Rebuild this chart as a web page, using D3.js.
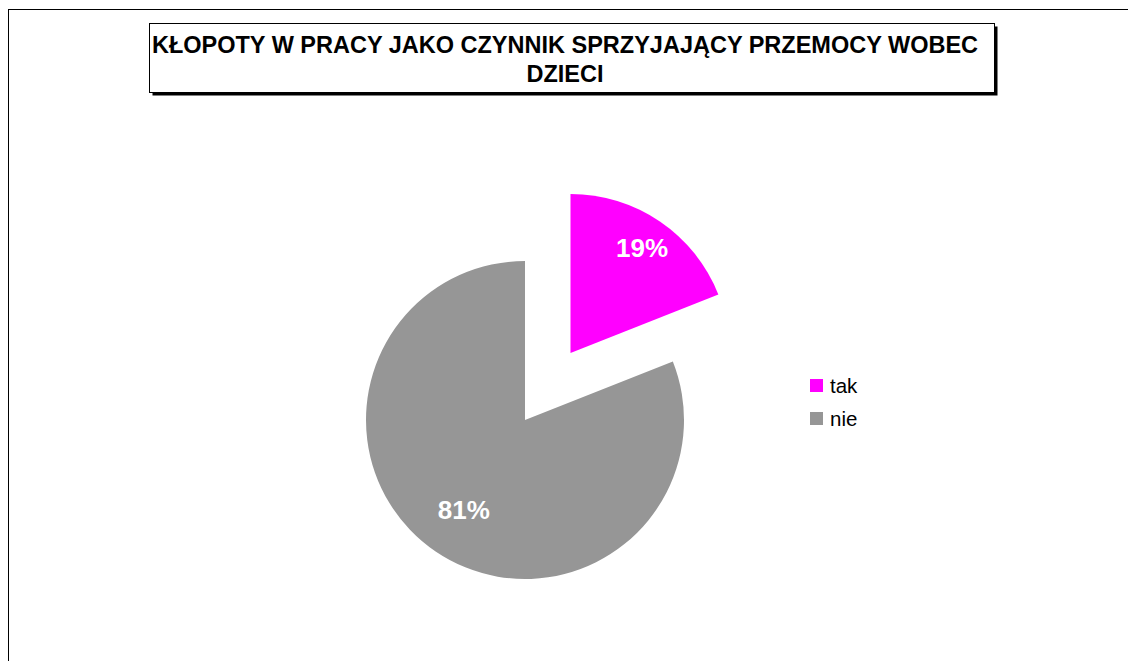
<!DOCTYPE html>
<html lang="pl">
<head>
<meta charset="UTF-8">
<title>Kłopoty w pracy</title>
<script src="https://d3js.org/d3.v7.min.js"></script>
<style>
    body {
        margin: 0;
        padding: 0;
        background: #fff;
        font-family: 'Liberation Sans', Arial, sans-serif;
    }
    svg { display: block; }
</style>
</head>
<body>
<svg id="chart"></svg>
<script>
    // data
    const categories = ["tak", "nie"];
    const values = [19, 81];
    const colors = ["#ff00ff", "#969696"];
    const titleLines = ["KŁOPOTY W PRACY JAKO CZYNNIK SPRZYJAJĄCY PRZEMOCY WOBEC", "DZIECI"];

    const W = 1128, H = 661;
    const svg = d3.select("#chart").attr("width", W).attr("height", H);

    // outer chart frame (runs off the right and bottom edges)
    svg.append("rect")
        .attr("x", 8.5).attr("y", 9.5)
        .attr("width", W + 10).attr("height", H + 10)
        .attr("fill", "none").attr("stroke", "#000").attr("stroke-width", 1);

    // title box with shadow
    const tb = { x: 149.5, y: 23.5, w: 845, h: 69 };
    svg.append("rect")
        .attr("x", tb.x + 3).attr("y", tb.y + 3)
        .attr("width", tb.w).attr("height", tb.h)
        .attr("fill", "#000");
    svg.append("rect")
        .attr("x", tb.x).attr("y", tb.y)
        .attr("width", tb.w).attr("height", tb.h)
        .attr("fill", "#fff").attr("stroke", "#000").attr("stroke-width", 1);

    svg.append("g").selectAll("text")
        .data(titleLines)
        .join("text")
        .attr("x", tb.x + tb.w / 2 - 7)
        .attr("y", (d, i) => 52.5 + i * 29)
        .attr("text-anchor", "middle")
        .attr("font-size", "23.5px")
        .attr("font-weight", "bold")
        .attr("fill", "#000")
        .text(d => d);

    // pie
    const cx = 525, cy = 420, r = 159;
    const explode = 81;

    const pie = d3.pie().sort(null).value(d => d.value);
    const arcs = pie(categories.map((c, i) => ({ name: c, value: values[i], color: colors[i] })));

    const arc = d3.arc().innerRadius(0).outerRadius(r);
    // the exploded slice keeps its label further out
    const labelArc = i => d3.arc().innerRadius(i === 0 ? r * 0.8 : r * 0.685).outerRadius(i === 0 ? r * 0.8 : r * 0.685);

    const g = svg.append("g").attr("transform", `translate(${cx},${cy})`);

    const slices = g.selectAll("g.slice")
        .data(arcs)
        .join("g")
        .attr("class", "slice")
        .attr("transform", (d, i) => {
            if (i !== 0) return null;
            const mid = (d.startAngle + d.endAngle) / 2;
            return `translate(${explode * Math.sin(mid)},${-explode * Math.cos(mid)})`;
        });

    slices.append("path")
        .attr("d", arc)
        .attr("fill", d => d.data.color);

    slices.append("text")
        .attr("transform", (d, i) => `translate(${labelArc(i).centroid(d)})`)
        .attr("text-anchor", "middle")
        .attr("dy", "0.36em")
        .attr("font-size", "26px")
        .attr("font-weight", "bold")
        .attr("fill", "#fff")
        .text(d => d.data.value + "%");

    // legend
    const legend = svg.append("g").attr("transform", "translate(810,379)");
    const items = legend.selectAll("g")
        .data(categories)
        .join("g")
        .attr("transform", (d, i) => `translate(0,${i * 33})`);
    items.append("rect")
        .attr("width", 13).attr("height", 13)
        .attr("fill", (d, i) => colors[i]);
    items.append("text")
        .attr("x", 20).attr("y", 14)
        .attr("font-size", "20.5px")
        .attr("fill", "#000")
        .text(d => d);
</script>
</body>
</html>
